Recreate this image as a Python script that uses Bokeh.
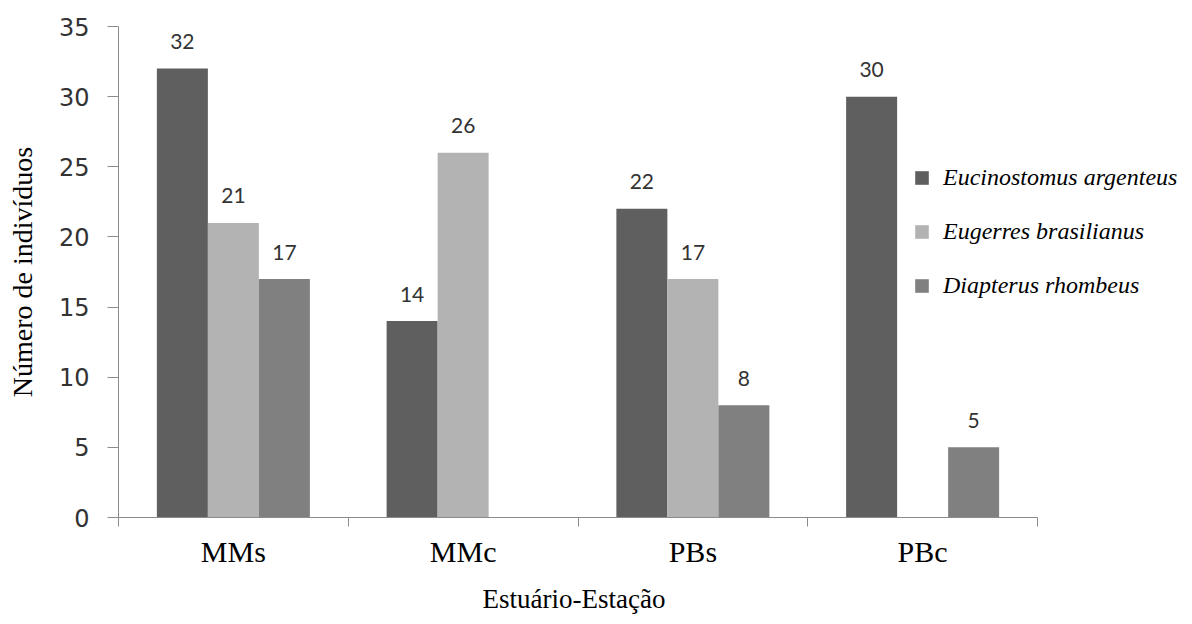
from bokeh.plotting import figure
from bokeh.models import Range1d, FixedTicker, ColumnDataSource, Legend, LegendItem, Title
from bokeh.core.properties import value
from bokeh.embed import file_html
from bokeh.resources import INLINE

categories = ["MMs", "MMc", "PBs", "PBc"]
series_names = ["Eucinostomus argenteus", "Eugerres brasilianus", "Diapterus rhombeus"]
eucinostomus = [32, 14, 22, 30]
eugerres = [21, 26, 17, 0]
diapterus = [17, 0, 8, 5]
y_ticks = [0, 5, 10, 15, 20, 25, 30, 35]
x_title = "Estuário-Estação"
y_title = "Número de indivíduos"

series_values = [eucinostomus, eugerres, diapterus]
colors = ["#5f5f5f", "#b3b3b3", "#808080"]
bar_w = 0.222
offsets = [-bar_w, 0.0, bar_w]

n_cat = len(categories)
# frame extends to the right so the legend can sit beyond the end of the x axis
x_end = n_cat * 1062 / 919

p = figure(width=1192, height=624, x_range=Range1d(0, x_end), y_range=Range1d(0, 35),
           output_backend="svg", toolbar_location=None,
           min_border_left=118, min_border_right=12, min_border_top=26, min_border_bottom=107)
p.outline_line_color = None
p.xgrid.visible = False
p.ygrid.visible = False

renderers = []
for vals, col, off in zip(series_values, colors, offsets):
    xs = [i + 0.5 + off for i in range(n_cat)]
    src = ColumnDataSource(dict(x=xs, top=vals))
    r = p.vbar(x="x", top="top", width=bar_w, bottom=0, source=src, fill_color=col, line_color=None)
    renderers.append(r)
    lx = [x for x, v in zip(xs, vals) if v > 0]
    lv = [v for v in vals if v > 0]
    lsrc = ColumnDataSource(dict(x=lx, y=lv, t=[str(v) for v in lv]))
    p.text(x="x", y="y", text="t", source=lsrc, text_align="center", text_baseline="middle",
           y_offset=-27, text_font=value("Lato"), text_font_size="21px", text_color="#333333")

# x axis: category labels at centres, boundary ticks as minor ticks
xa = p.xaxis[0]
xa.bounds = (0, n_cat)
xa.ticker = FixedTicker(ticks=[i + 0.5 for i in range(n_cat)],
                        minor_ticks=list(range(n_cat + 1)))
xa.major_label_overrides = {i + 0.5: c for i, c in enumerate(categories)}
xa.major_tick_out = 0
xa.major_tick_in = 0
xa.minor_tick_out = 9
xa.minor_tick_in = 0
xa.axis_line_color = "#8c8c8c"
xa.minor_tick_line_color = "#8c8c8c"
xa.major_label_text_font = "Liberation Serif"
xa.major_label_text_font_size = "30px"
xa.major_label_text_color = "#000000"
xa.major_label_standoff = 8

# x axis title, placed under the axis and centred on the axis' own extent
xt = Title(text=x_title, align="left", offset=364, standoff=22)
xt.text_font = "Liberation Serif"
xt.text_font_style = "normal"
xt.text_font_size = "27px"
xt.text_color = "#000000"
p.add_layout(xt, "below")

ya = p.yaxis[0]
ya.ticker = FixedTicker(ticks=y_ticks, minor_ticks=[])
ya.major_tick_out = 11
ya.major_tick_in = 0
ya.axis_line_color = "#8c8c8c"
ya.major_tick_line_color = "#8c8c8c"
ya.major_label_text_font = "DejaVu Sans"
ya.major_label_text_font_size = "24px"
ya.major_label_text_color = "#333333"
ya.major_label_standoff = 18
ya.axis_label = y_title
ya.axis_label_text_font = "Liberation Serif"
ya.axis_label_text_font_style = "normal"
ya.axis_label_text_font_size = "28px"
ya.axis_label_text_color = "#000000"
ya.axis_label_standoff = 18

legend = Legend(items=[LegendItem(label=n, renderers=[r]) for n, r in zip(series_names, renderers)],
                location=(795, 218), orientation="vertical")
legend.glyph_width = 17
legend.glyph_height = 17
legend.label_height = 17
legend.spacing = 27
legend.label_standoff = 13
legend.padding = 0
legend.margin = 0
legend.border_line_color = None
legend.background_fill_alpha = 0
legend.label_text_font = "Liberation Serif"
legend.label_text_font_style = "italic"
legend.label_text_font_size = "24px"
legend.label_text_color = "#000000"
p.add_layout(legend, "center")

open("out.html", "w").write(file_html(p, INLINE))
